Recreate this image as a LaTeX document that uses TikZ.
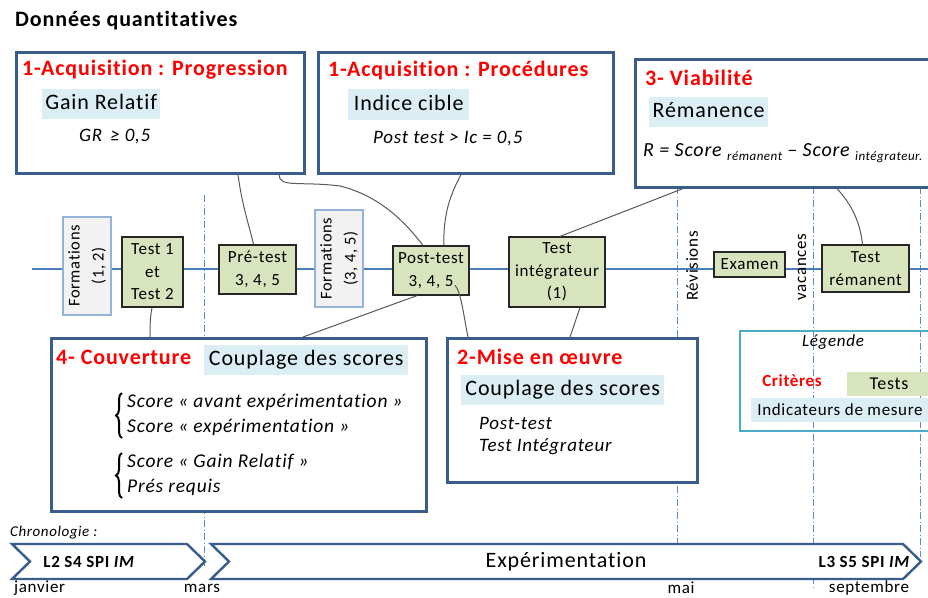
\documentclass[tikz,border=0pt]{standalone}
\usepackage{fontspec}
\setmainfont{Carlito}[LetterSpace=4, Ligatures={NoCommon}]
\usetikzlibrary{decorations.pathreplacing}
\definecolor{crit}{HTML}{FF0000}
\definecolor{boxblue}{HTML}{385D8A}
\definecolor{indfill}{HTML}{DBEEF4}
\definecolor{testfill}{HTML}{D7E4BD}
\definecolor{formfill}{HTML}{F2F2F2}
\definecolor{formline}{HTML}{95B3D7}
\definecolor{tline}{HTML}{4A7EBB}
\definecolor{ddline}{HTML}{5B8BC9}
\definecolor{conn}{HTML}{595959}
\definecolor{legline}{HTML}{4BACC6}
\newcommand{\fs}[2]{\fontsize{#1}{#2}\selectfont}
\tikzset{
  bigbox/.style={draw=boxblue, line width=2.6pt, fill=white, rectangle, anchor=north west, inner sep=0pt},
  crittext/.style={text=crit, font=\fs{22}{24}\bfseries, anchor=west, inner sep=0pt},
  indbox/.style={fill=indfill, font=\fs{22}{24}, inner sep=0pt, anchor=north west, text height=15pt, text depth=4pt},
  formula/.style={font=\fs{19}{21}\itshape, anchor=west, inner sep=0pt},
  testbox/.style={draw=black!85, line width=1.2pt, fill=testfill, align=center, font=\fs{17}{22.5}, inner sep=0pt},
  formbox/.style={draw=formline, line width=1.2pt, fill=formfill, align=center, font=\fs{16.5}{24}, inner sep=0pt, rotate=90},
  ddash/.style={draw=ddline, line width=0.8pt, dash pattern=on 7pt off 2.5pt on 1pt off 2.5pt},
  connector/.style={draw=conn, line width=1pt},
  chevron/.style={draw=boxblue, line width=2.4pt, fill=white, line join=miter},
  sidelabel/.style={font=\fs{17}{20}, rotate=90, inner sep=0pt},
  datelabel/.style={font=\fs{17}{20}, inner sep=0pt}
}
\begin{document}
\begin{tikzpicture}[x=1pt,y=-1pt]
\useasboundingbox (0,0) rectangle (928,597);
\fill[white] (0,0) rectangle (928,597);

% vertical dash-dot separators
\coordinate (m1) at (204,195); \coordinate (m1b) at (204,566);
\coordinate (m2) at (677,70);  \coordinate (m2b) at (677,545);
\coordinate (m3) at (813,70);  \coordinate (m3b) at (813,590);
\coordinate (m4) at (920,70);  \coordinate (m4b) at (920,557);
\draw[ddash] (m1) -- (m1b);
\draw[ddash] (m2) -- (m2b);
\draw[ddash] (m3) -- (m3b);
\draw[ddash] (m4) -- (m4b);

% timeline
\coordinate (tl0) at (32,269);
\coordinate (tl1) at (930,269);
\draw[tline, line width=1.1pt] (tl0) -- (tl1);

% title
\node[font=\fs{22}{24}\bfseries, anchor=west, inner sep=0pt] (title) at (15,21) {Données quantitatives};

% big boxes
\node[bigbox, minimum width=288pt, minimum height=121pt] (A) at (15,51) {};
\node[bigbox, minimum width=295pt, minimum height=121pt] (B) at (317,51) {};
\node[bigbox, minimum width=301pt, minimum height=128pt] (C) at (634,58) {};
\node[bigbox, minimum width=375pt, minimum height=173pt] (D) at (50,337) {};
\node[bigbox, minimum width=250pt, minimum height=144pt] (E) at (446,337) {};
\node[draw=legline, line width=2.2pt, rectangle, anchor=north west, inner sep=0pt, minimum width=196pt, minimum height=100pt] (L) at (739,330) {};

% box A
\node[crittext] (Ah) at (22,70) {1-Acquisition : Progression};
\node[indbox, minimum width=118pt, minimum height=30pt] (Ai) at (42,89) {Gain Relatif};
\node[formula] (Af) at (79,137) {GR\hspace{8pt}≥ 0,5};
% box B
\node[crittext] (Bh) at (328,71) {1-Acquisition : Procédures};
\node[indbox, minimum width=121pt, minimum height=31pt] (Bi) at (348,89) {Indice cible};
\node[formula] (Bf) at (373,139) {Post test > Ic = 0,5};
% box C
\node[crittext] (Ch) at (645,78) {3- Viabilité};
\node[indbox, minimum width=119pt, minimum height=30pt] (Ci) at (649,97) {Rémanence};
\node[formula, font=\fs{20}{22}\itshape] (Cf) at (643,153) {R = Score {\fs{13}{14}\raisebox{-4pt}{rémanent}} – Score {\fs{13}{14}\raisebox{-4pt}{intégrateur.}}};
% box D
\node[crittext] (Dh) at (56,357) {4- Couverture};
\node[indbox, minimum width=204pt, minimum height=30pt] (Di) at (204,345) {Couplage des scores};
\node[formula, font=\fs{19.5}{21}\itshape] (D1) at (127,402) {Score « avant expérimentation »};
\node[formula, font=\fs{19.5}{21}\itshape] (D2) at (127,427) {Score « expérimentation »};
\node[formula, font=\fs{19.5}{21}\itshape] (D3) at (127,462) {Score « Gain Relatif »};
\node[formula, font=\fs{19.5}{21}\itshape] (D4) at (127,487) {Prés requis};
\coordinate (br1a) at (122,438); \coordinate (br1b) at (122,393);
\coordinate (br2a) at (122,498); \coordinate (br2b) at (122,453);
\draw[line width=2pt, decorate, decoration={brace, amplitude=6pt}] (br1a) -- (br1b);
\draw[line width=2pt, decorate, decoration={brace, amplitude=6pt}] (br2a) -- (br2b);
% box E
\node[crittext] (Eh) at (457,357) {2-Mise en œuvre};
\node[indbox, minimum width=203pt, minimum height=30pt] (Ei) at (461,375) {Couplage des scores};
\node[formula] (E1) at (479,423) {Post-test};
\node[formula] (E2) at (479,447) {Test Intégrateur};
% legend
\node[font=\fs{17}{20}\itshape, inner sep=0pt] (Lt) at (833,342) {Légende};
\node[font=\fs{17}{20}\bfseries, text=crit, inner sep=0pt] (Lc) at (792,381) {Critères};
\node[fill=testfill, font=\fs{18}{20}, inner sep=0pt, minimum width=84pt, minimum height=24pt] (Lg) at (889,384) {Tests};
\node[fill=indfill, font=\fs{17}{20}, inner sep=0pt, minimum width=178pt, minimum height=24pt] (Lb) at (840,410) {Indicateurs de mesure};

% timeline nodes
\node[formbox, minimum width=98pt, minimum height=48pt] (F1) at (87,266) {Formations\\(1, 2)};
\node[testbox, minimum width=61pt, minimum height=70pt] (T1) at (152.5,272) {Test 1\\et\\Test 2};
\node[testbox, minimum width=77pt, minimum height=49pt] (PR) at (257.5,269.5) {Pré-test\\3, 4, 5};
\node[formbox, minimum width=97pt, minimum height=48pt] (F2) at (339,258.5) {Formations\\(3, 4, 5)};
\node[testbox, minimum width=76pt, minimum height=49pt] (PO) at (431,270.5) {Post-test\\3, 4, 5};
\node[testbox, minimum width=96pt, minimum height=70pt] (TI) at (557,272) {Test\\intégrateur\\(1)};
\node[testbox, minimum width=71pt, minimum height=25pt] (EX) at (749.5,264.5) {Examen};
\node[testbox, minimum width=87pt, minimum height=47pt] (TR) at (865.5,268.5) {Test\\rémanent};
\node[sidelabel] (RV) at (692,266) {Révisions};
\node[sidelabel] (VC) at (802,267) {vacances};

% connectors
\draw[connector] ([xshift=223pt]A.south west) .. controls (242,205) and (249,225) .. ([xshift=-4pt]PR.north);
\draw[connector] ([xshift=264pt]A.south west) .. controls (279,188) and (300,181) .. (340,186) .. controls (380,196) and (405,222) .. ([xshift=-8pt]PO.north);
\draw[connector] ([xshift=144pt]B.south west) .. controls (450,195) and (443,215) .. ([xshift=13pt]PO.north);
\draw[connector] ([xshift=24pt,yshift=-40pt]PO.north) .. controls (461,291) and (464,318) .. ([xshift=22pt]E.north west);
\draw[connector] ([xshift=-14pt]PO.south) -- ([xshift=253pt]D.north west);
\draw[connector] ([xshift=-0.5pt]T1.south) .. controls (150,318) and (150,326) .. ([xshift=100pt]D.north west);
\draw[connector] ([xshift=23pt]TI.south) -- ([xshift=124pt]E.north west);
\draw[connector] ([xshift=3pt]TI.north) -- ([xshift=49pt]C.south west);
\draw[connector] ([xshift=203pt]C.south west) .. controls (852,205) and (860,222) .. ([xshift=-3pt]TR.north);

% chronology
\node[font=\fs{15}{18}\itshape, anchor=west, inner sep=0pt] (chr) at (10,533) {Chronologie :};
\draw[chevron] (12,544) -- (187,544) -- (205,561.5) -- (187,579) -- (12,579) -- (30,561.5) -- cycle;
\draw[chevron] (211,544) -- (903,544) -- (921,561.5) -- (903,579) -- (211,579) -- (229,561.5) -- cycle;
\node[font=\fs{17}{20}\bfseries, inner sep=0pt] (ch1) at (89,562) {L2 S4 SPI \textit{IM}};
\node[font=\fs{22}{24}, inner sep=0pt] (ch2) at (566,562) {Expérimentation};
\node[font=\fs{17}{20}\bfseries, inner sep=0pt, anchor=east] (ch3) at (910,562) {L3 S5 SPI \textit{IM}};
\node[datelabel, anchor=west] (d1) at (14,588) {janvier};
\node[datelabel] (d2) at (202,588) {mars};
\node[datelabel] (d3) at (681,588) {mai};
\node[datelabel] (d4) at (869,588) {septembre};
\end{tikzpicture}
\end{document}
